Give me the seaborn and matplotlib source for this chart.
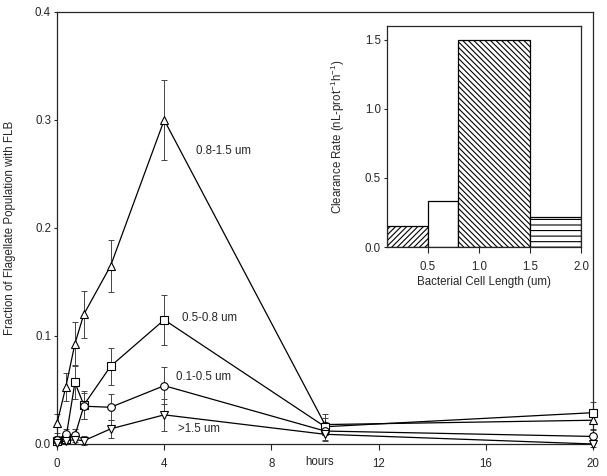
import numpy as np
import pandas as pd
import matplotlib
matplotlib.use("Agg")
import matplotlib.pyplot as plt
import seaborn as sns

# ---------------- data ----------------
hours = [0, 0.33, 0.67, 1, 2, 4, 10, 20]

size_08_15 = [0.019, 0.053, 0.093, 0.120, 0.165, 0.300, 0.018, 0.022]
err_08_15 = [0.009, 0.013, 0.020, 0.022, 0.024, 0.037, 0.010, 0.008]

size_05_08 = [0.003, 0.005, 0.057, 0.036, 0.072, 0.115, 0.016, 0.029]
err_05_08 = [0.003, 0.004, 0.015, 0.013, 0.017, 0.023, 0.008, 0.010]

size_01_05 = [0.004, 0.009, 0.008, 0.035, 0.034, 0.054, 0.012, 0.007]
err_01_05 = [0.003, 0.005, 0.006, 0.012, 0.012, 0.017, 0.008, 0.006]

size_gt15 = [0.001, 0.003, 0.004, 0.003, 0.014, 0.027, 0.009, 0.000]
err_gt15 = [0.002, 0.003, 0.004, 0.004, 0.008, 0.015, 0.006, 0.003]

series_labels = ["0.8-1.5 um", "0.5-0.8 um", "0.1-0.5 um", ">1.5 um"]
label_pos_x = [5.2, 4.65, 4.43, 4.5]
label_pos_y = [0.271, 0.117, 0.062, 0.014]

x_ticks = [0, 4, 8, 12, 16, 20]
y_ticks = [0.0, 0.1, 0.2, 0.3, 0.4]

# inset: clearance rate per bacterial size class (bin edges)
bin_left = [0.1, 0.5, 0.8, 1.5]
bin_right = [0.5, 0.8, 1.5, 2.0]
clearance = [0.15, 0.33, 1.50, 0.22]
inset_xticks = [0.5, 1.0, 1.5, 2.0]
inset_yticks = [0.0, 0.5, 1.0, 1.5]

# ---------------- style ----------------
sns.set_style("ticks")
plt.rcParams["font.family"] = ["Liberation Sans", "DejaVu Sans"]
plt.rcParams["hatch.linewidth"] = 0.8
plt.rcParams["mathtext.fontset"] = "custom"
plt.rcParams["mathtext.rm"] = "Liberation Sans"
plt.rcParams["mathtext.it"] = "Liberation Sans"
FS = 8.3

fig = plt.figure(figsize=(6.07, 4.76), dpi=100)
ax = fig.add_axes([57 / 607, 1 - 444 / 476, (593 - 57) / 607, (444 - 12) / 476])

markers = ["^", "s", "o", "v"]
vals = [size_08_15, size_05_08, size_01_05, size_gt15]
errs = [err_08_15, err_05_08, err_01_05, err_gt15]

for v, e in zip(vals, errs):
    ax.errorbar(hours, v, yerr=e, fmt="none", ecolor="#444444", elinewidth=0.7,
                capsize=2.4, capthick=0.7, zorder=2, clip_on=False)

for v, m in zip(vals, markers):
    df = pd.DataFrame({"hours": hours, "frac": v})
    sns.lineplot(data=df, x="hours", y="frac", ax=ax, color="black", lw=0.9,
                 marker=m, markersize=5.5, markerfacecolor="white",
                 markeredgecolor="black", markeredgewidth=0.8,
                 errorbar=None, sort=False, clip_on=False, zorder=3)

for lab, lx, ly in zip(series_labels, label_pos_x, label_pos_y):
    ax.text(lx, ly, lab, fontsize=FS, va="center", ha="left")

ax.set_xlim(0, 20)
ax.set_ylim(0, 0.4)
ax.set_xticks(x_ticks)
ax.set_xticklabels([str(t) for t in x_ticks], fontsize=FS)
ax.set_yticks(y_ticks)
ax.set_yticklabels([f"{t:.1f}" for t in y_ticks], fontsize=FS)
ax.set_xlabel("hours", fontsize=FS)
ax.xaxis.set_label_coords(0.49, -0.028)
ax.set_ylabel("Fraction of Flagellate Population with FLB", fontsize=FS)
ax.yaxis.set_label_coords(-(57 - 16.5) / 536, 0.5)
for s in ax.spines.values():
    s.set_linewidth(0.9)
    s.set_visible(True)
ax.tick_params(axis="x", direction="out", length=4, width=0.8, pad=6)
ax.tick_params(axis="y", direction="out", length=2.3, width=0.8, pad=2)

# ---------------- inset ----------------
axi = fig.add_axes([387 / 607, 1 - 247 / 476, (581 - 387) / 607, (247 - 26) / 476])
widths = [r - l for l, r in zip(bin_left, bin_right)]
hatches = ["//////", "", "\\\\\\\\\\\\", "---"]
bars = axi.bar(bin_left, clearance, width=widths, align="edge",
               color="white", edgecolor="black", linewidth=0.9)
for b, h in zip(bars, hatches):
    b.set_hatch(h)
axi.set_xlim(0.1, 2.0)
axi.set_ylim(0, 1.6)
axi.set_xticks(inset_xticks)
axi.set_xticklabels([f"{t:.1f}" for t in inset_xticks], fontsize=FS)
axi.set_yticks(inset_yticks)
axi.set_yticklabels([f"{t:.1f}" for t in inset_yticks], fontsize=FS)
axi.set_xlabel("Bacterial Cell Length (um)", fontsize=FS, labelpad=2)
axi.set_ylabel("Clearance Rate (nL-prot$^{-1}$h$^{-1}$)", fontsize=FS)
axi.yaxis.set_label_coords(-(387 - 347) / 194, 0.5)
for s in axi.spines.values():
    s.set_linewidth(0.9)
    s.set_visible(True)
axi.tick_params(axis="x", direction="out", length=4, width=0.8, pad=6)
axi.tick_params(axis="y", direction="out", length=2.3, width=0.8, pad=2)

fig.savefig("out.png", dpi=100)
